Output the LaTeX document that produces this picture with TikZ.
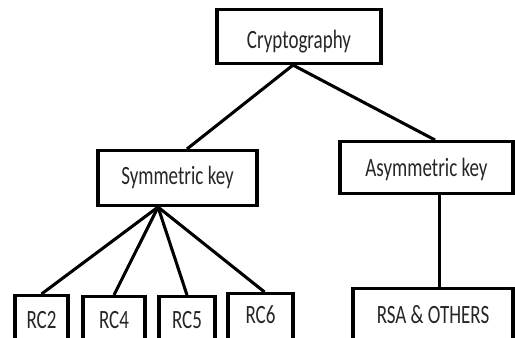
\documentclass[tikz,border=0pt]{standalone}
\usepackage{fontspec}
\newfontfamily\boxfont[FakeStretch=0.72]{Carlito}
\usepackage{tikz}

\begin{document}
\begin{tikzpicture}[x=0.75pt,y=0.75pt,yscale=-1,xscale=1,
  box/.style={draw, line width=2.3pt, anchor=north, inner sep=0pt, text=black!85,
    font=\boxfont\fontsize{19.8}{24}\selectfont},
  link/.style={line width=2.3pt}]
%set diagram size to 515 x 338
\useasboundingbox (0,0) rectangle (515,338);
\clip (0,0) rectangle (515,338);

% Text Node
\node [box, minimum width=123pt, text height=29.25pt, text depth=11.25pt] (crypto) at (299,8) {Cryptography};
% Text Node
\node [box, minimum width=119.25pt, text height=25.5pt, text depth=15.75pt] (sym) at (177.5,149) {Symmetric key};
% Text Node
\node [box, minimum width=129.75pt, text height=26.25pt, text depth=12.75pt] (asym) at (426.5,140) {Asymmetric key};
% Text Node
\node [box, minimum width=120pt, text height=26.25pt, text depth=30pt] (rsa) at (433,287) {RSA \& OTHERS};
% Text Node
\node [box, minimum width=39.75pt, text height=24.75pt, text depth=30pt] (rc2) at (41.5,294) {RC2};
% Text Node
\node [box, minimum width=46.5pt, text height=24pt, text depth=30pt] (rc4) at (114,295) {RC4\hspace{8.25pt}};
% Text Node
\node [box, minimum width=42pt, text height=24pt, text depth=30pt] (rc5) at (187,295) {RC5};
% Text Node
\node [box, minimum width=48.75pt, text height=22.5pt, text depth=30pt] (rc6) at (260.5,292) {RC6\hspace{9.75pt}};

%Straight Lines
\coordinate (cj) at ([xshift=-4.5pt]crypto.south);
\coordinate (sj) at ([xshift=-14.6pt]sym.south);
\draw [link] (cj) -- ([xshift=7.1pt]sym.north);
\draw [link] (cj) -- ([xshift=6.4pt]asym.north);
\draw [link] ([xshift=10pt]asym.south) -- ([xshift=10pt]asym.south |- rsa.north);
%Straight Lines
\draw [link] (sj) -- (rc2.north);
\draw [link] (sj) -- (rc4.north);
\draw [link] (sj) -- (rc5.north);
\draw [link] (sj) -- ([xshift=3pt]rc6.north);

\end{tikzpicture}
\end{document}
